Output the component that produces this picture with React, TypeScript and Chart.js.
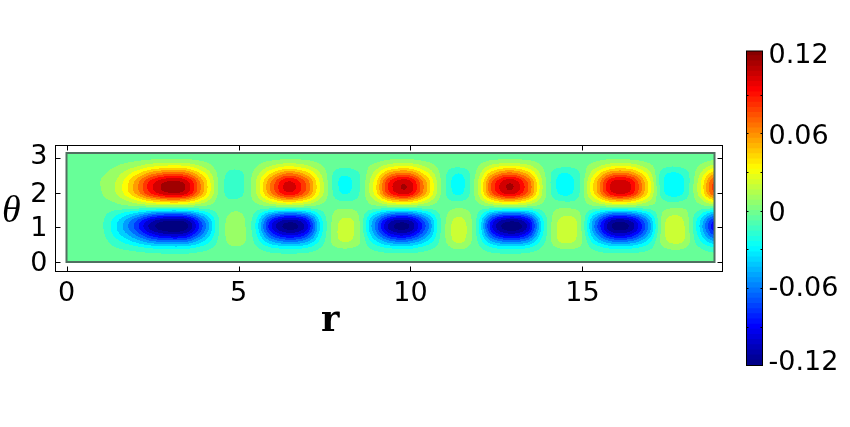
import React, { useEffect, useRef } from "react";
import { Chart, registerables } from "chart.js";

Chart.register(...registerables);

// field values in thousandths: rows run from theta = 0 to pi, columns from r = 0 to 6*pi
const row0 = [0,0,0,0,0,0,0,0,0,0,0,0,0,0,0,0,0,0,0,0,0,0,0,0,0,0,0,0,0,0,0,0,0,0,0,0,0,0,0];
const row1 = [0,0,0,-1,-2,-3,-4,-4,-2,0,0,0,-3,-4,-3,-1,0,0,-2,-3,-3,-2,0,0,0,-3,-4,-3,0,0,0,-2,-3,-3,-2,0,0,-1,-3];
const row2 = [0,0,-1,-6,-12,-19,-22,-21,-12,-1,4,-3,-16,-21,-18,-4,6,4,-9,-19,-21,-12,-1,8,-1,-17,-22,-18,-3,7,5,-10,-21,-20,-11,5,8,-4,-16];
const row3 = [0,0,-1,-15,-33,-52,-60,-57,-31,-2,12,-7,-42,-57,-47,-10,17,12,-24,-52,-55,-33,-1,21,-3,-44,-59,-48,-8,20,13,-28,-55,-54,-29,13,21,-12,-42];
const row4 = [0,-1,-2,-26,-54,-86,-100,-94,-51,-3,14,-11,-70,-94,-78,-16,20,14,-40,-86,-92,-54,-2,25,-5,-74,-98,-80,-13,24,15,-46,-92,-90,-48,15,25,-19,-70];
const row5 = [0,-1,-3,-32,-68,-108,-125,-118,-64,-4,14,-14,-88,-118,-98,-20,20,14,-50,-108,-115,-68,-3,25,-6,-92,-122,-100,-16,24,15,-58,-115,-112,-60,15,25,-24,-88];
const row6 = [0,-1,-3,-29,-63,-99,-115,-109,-59,-4,13,-13,-81,-109,-90,-18,18,13,-46,-99,-106,-63,-3,22,-6,-85,-112,-92,-15,22,14,-53,-106,-103,-55,14,22,-22,-81];
const row7 = [0,-1,-2,-17,-35,-56,-65,-61,-33,-2,8,-7,-46,-61,-51,-10,12,8,-26,-56,-60,-35,-2,15,-3,-48,-63,-52,-8,14,9,-30,-60,-58,-31,9,15,-12,-46];
const row8 = [0,0,0,0,0,0,0,0,0,0,3,0,0,0,0,0,4,3,0,0,0,0,0,5,0,0,0,0,0,5,3,0,0,0,0,3,5,0,0];
const row9 = [0,0,3,10,27,47,57,53,27,0,-4,7,33,51,38,10,-6,-4,15,46,53,29,1,-7,6,40,55,39,6,-7,-3,24,51,49,23,-5,-7,9,40];
const row10 = [0,1,5,20,52,90,109,102,52,1,-11,13,63,97,72,20,-16,-10,29,88,102,56,3,-20,11,77,104,74,11,-20,-8,45,97,95,43,-15,-20,18,77];
const row11 = [0,1,6,22,58,100,121,113,58,1,-13,14,70,108,80,22,-19,-12,32,98,113,62,3,-24,12,85,116,82,12,-24,-10,50,108,105,48,-18,-23,20,85];
const row12 = [0,1,6,20,53,92,111,104,53,1,-13,13,64,99,74,20,-19,-12,29,90,104,57,3,-24,11,78,107,75,11,-24,-10,46,99,97,44,-18,-23,18,78];
const row13 = [0,1,4,14,36,62,75,70,36,1,-10,9,43,67,50,14,-14,-9,20,61,70,38,2,-18,7,53,72,51,7,-18,-8,31,67,65,30,-14,-17,12,53];
const row14 = [0,0,2,7,17,30,36,34,17,0,-3,4,21,32,24,7,-4,-2,10,29,34,19,1,-5,4,26,35,25,4,-5,-2,15,32,32,14,-4,-5,6,26];
const row15 = [0,0,0,2,4,7,8,8,4,0,0,1,5,8,6,2,0,0,2,7,8,4,0,0,1,6,8,6,1,0,0,4,8,7,3,0,0,1,6];
const row16 = [0,0,0,0,0,0,0,0,0,0,0,0,0,0,0,0,0,0,0,0,0,0,0,0,0,0,0,0,0,0,0,0,0,0,0,0,0,0,0];
const field = [row0,row1,row2,row3,row4,row5,row6,row7,row8,row9,row10,row11,row12,row13,row14,row15,row16];

const rMax = 6 * Math.PI;
const thetaMax = Math.PI;
const xTicks = [0, 5, 10, 15];
const yTicks = [0, 1, 2, 3];
const yLabelValues = [0, 1, 2, 3.08];
const yLabels = ["0", "1", "2", "3"];
const barTickMarks = [-0.09, -0.06, -0.03, 0, 0.03, 0.06, 0.09];
const barLabelValues = [-0.1159, -0.0585, 0, 0.0595, 0.1223];
const barLabels = ["-0.12", "-0.06", "0", "0.06", "0.12"];
const colorMin = -0.12;
const colorMax = 0.1238;
const bandStep = 0.012;

const FONT = "'DejaVu Sans'";

function clamp01(v: number) {
  return v < 0 ? 0 : v > 1 ? 1 : v;
}
function jet(v: number): [number, number, number] {
  const t = clamp01((v - colorMin) / (colorMax - colorMin));
  return [
    Math.round(255 * clamp01(1.5 - Math.abs(4 * t - 3))),
    Math.round(255 * clamp01(1.5 - Math.abs(4 * t - 2))),
    Math.round(255 * clamp01(1.5 - Math.abs(4 * t - 1))),
  ];
}
function cubic(a: number, b: number, c: number, d: number, t: number) {
  return b + 0.5 * t * (c - a + t * (2 * a - 5 * b + 4 * c - d + t * (3 * (b - c) + d - a)));
}
function fieldAt(r: number, theta: number) {
  const nr = field[0].length - 1;
  const nt = field.length - 1;
  const fx = (r / rMax) * nr;
  const fy = (theta / thetaMax) * nt;
  const ix = Math.min(nr - 1, Math.max(0, Math.floor(fx)));
  const iy = Math.min(nt - 1, Math.max(0, Math.floor(fy)));
  const col = (j: number) => {
    const row = field[Math.max(0, Math.min(nt, j))];
    const g = (i: number) => row[Math.max(0, Math.min(nr, i))];
    return cubic(g(ix - 1), g(ix), g(ix + 1), g(ix + 2), fx - ix);
  };
  return cubic(col(iy - 1), col(iy), col(iy + 1), col(iy + 2), fy - iy) / 1000;
}

const gridPoints = field.flatMap((row, j) =>
  row.map((v, i) => ({ x: (i / (row.length - 1)) * rMax, y: (j / (field.length - 1)) * thetaMax, v }))
);

const contourPlugin = {
  id: "contour",
  beforeDatasetsDraw(chart: any) {
    const { ctx, scales } = chart;
    const x0 = Math.round(scales.x.getPixelForValue(0));
    const x1 = Math.round(scales.x.getPixelForValue(rMax));
    const y0 = Math.round(scales.y.getPixelForValue(thetaMax));
    const y1 = Math.round(scales.y.getPixelForValue(0));
    const w = x1 - x0;
    const h = y1 - y0;
    const off = document.createElement("canvas");
    off.width = w;
    off.height = h;
    const octx = off.getContext("2d")!;
    const img = octx.createImageData(w, h);
    for (let py = 0; py < h; py++) {
      const theta = scales.y.getValueForPixel(y0 + py + 0.5);
      for (let px = 0; px < w; px++) {
        const r = scales.x.getValueForPixel(x0 + px + 0.5);
        const v = fieldAt(r, theta);
        const band = Math.round(v / bandStep) * bandStep;
        const c = jet(band - 0.004);
        const k = (py * w + px) * 4;
        img.data[k] = c[0];
        img.data[k + 1] = c[1];
        img.data[k + 2] = c[2];
        img.data[k + 3] = 255;
      }
    }
    octx.putImageData(img, 0, 0);
    ctx.drawImage(off, x0, y0);
    ctx.save();
    ctx.strokeStyle = "rgb(80,112,96)";
    ctx.lineWidth = 2;
    ctx.strokeRect(x0 - 0.5, y0, w, h);
    ctx.restore();
  },
  afterDraw(chart: any) {
    const { ctx, scales, chartArea: a } = chart;
    ctx.save();
    ctx.strokeStyle = "#000";
    ctx.lineWidth = 1;
    ctx.strokeRect(a.left, a.top, a.right - a.left, a.bottom - a.top);
    ctx.beginPath();
    const len = 5;
    xTicks.forEach((t) => {
      const p = Math.round(scales.x.getPixelForValue(t)) + 0.5;
      ctx.moveTo(p, a.top);
      ctx.lineTo(p, a.top + len);
      ctx.moveTo(p, a.bottom);
      ctx.lineTo(p, a.bottom - len);
    });
    yTicks.forEach((t) => {
      const p = Math.round(scales.y.getPixelForValue(t)) + 0.5;
      ctx.moveTo(a.left, p);
      ctx.lineTo(a.left + len, p);
      ctx.moveTo(a.right, p);
      ctx.lineTo(a.right - len, p);
    });
    ctx.stroke();
    ctx.fillStyle = "#000";
    ctx.textBaseline = "alphabetic";
    ctx.textAlign = "left";
    ctx.font = "italic 38px 'Liberation Serif', 'DejaVu Serif', serif";
    ctx.fillText("θ", 2, 222);
    ctx.font = "bold 35px 'DejaVu Serif', serif";
    ctx.fillText("r", 321, 331);
    ctx.restore();
  },
};

const barFramePlugin = {
  id: "barFrame",
  afterDraw(chart: any) {
    const { ctx, scales, chartArea: a } = chart;
    ctx.save();
    ctx.strokeStyle = "#000";
    ctx.lineWidth = 1;
    ctx.strokeRect(a.left, a.top, a.right - a.left, a.bottom - a.top);
    ctx.beginPath();
    barTickMarks.forEach((t) => {
      const p = Math.round(scales.y.getPixelForValue(t)) + 0.5;
      ctx.moveTo(a.left, p);
      ctx.lineTo(a.left + 2, p);
      ctx.moveTo(a.right, p);
      ctx.lineTo(a.right - 2, p);
    });
    ctx.stroke();
    ctx.restore();
  },
};

export default function App() {
  const mainRef = useRef<HTMLCanvasElement>(null);
  const barRef = useRef<HTMLCanvasElement>(null);

  useEffect(() => {
    const main = new Chart(mainRef.current!, {
      type: "scatter",
      data: { datasets: [{ label: "field", data: gridPoints, pointRadius: 0, showLine: false }] },
      options: {
        animation: false,
        responsive: false,
        layout: { padding: { left: 0, top: 145.5, right: 127.5, bottom: 0 } },
        plugins: { legend: { display: false }, tooltip: { enabled: false } },
        scales: {
          x: {
            type: "linear",
            min: -0.32,
            max: 19.07,
            afterFit: (s: any) => { s.height = 155.5; },
            afterBuildTicks: (s: any) => { s.ticks = xTicks.map((value) => ({ value })); },
            grid: { display: false, drawTicks: false },
            border: { display: false },
            ticks: { color: "#000", font: { family: FONT, size: 27 }, padding: 6, maxRotation: 0 },
          },
          y: {
            type: "linear",
            min: -0.284,
            max: 3.363,
            afterFit: (s: any) => { s.width = 55.5; },
            afterBuildTicks: (s: any) => { s.ticks = yLabelValues.map((value) => ({ value })); },
            grid: { display: false, drawTicks: false },
            border: { display: false },
            ticks: {
              color: "#000",
              font: { family: FONT, size: 27 },
              padding: 8,
              labelOffset: 2,
              callback: (value: any) => yLabels[yLabelValues.indexOf(value)],
            },
          },
        },
      },
      plugins: [contourPlugin],
    } as any);

    const levels: number[] = [];
    for (let v = colorMin; v < colorMax - 1e-9; v += 0.004) levels.push(v);
    const bar = new Chart(barRef.current!, {
      type: "bar",
      data: {
        labels: ["c"],
        datasets: levels.map((lo) => {
          const c = jet(lo + 0.002);
          return {
            label: lo.toFixed(3),
            data: [[lo, Math.min(colorMax, lo + 0.0042)]],
            backgroundColor: `rgb(${c[0]},${c[1]},${c[2]})`,
            borderWidth: 0,
            barPercentage: 1,
            categoryPercentage: 1,
            grouped: false,
          };
        }),
      },
      options: {
        animation: false,
        responsive: false,
        layout: { padding: { left: 746.5, top: 51, right: 0, bottom: 61.5 } },
        plugins: { legend: { display: false }, tooltip: { enabled: false } },
        scales: {
          x: {
            display: false,
            grid: { display: false },
          },
          y: {
            type: "linear",
            position: "right",
            min: colorMin,
            max: colorMax,
            afterFit: (s: any) => { s.width = 87.5; },
            afterBuildTicks: (s: any) => { s.ticks = barLabelValues.map((value) => ({ value })); },
            grid: { display: false, drawTicks: false },
            border: { display: false },
            ticks: {
              color: "#000",
              font: { family: FONT, size: 27 },
              padding: 6,
              labelOffset: 3,
              crossAlign: "near",
              callback: (value: any) => barLabels[barLabelValues.indexOf(value)],
            },
          },
        },
      },
      plugins: [barFramePlugin],
    } as any);

    return () => {
      main.destroy();
      bar.destroy();
    };
  }, []);

  const style: React.CSSProperties = { position: "fixed", left: 0, top: 0 };
  return (
    <div style={{ position: "fixed", left: 0, top: 0, width: 850, height: 427, background: "#fff" }}>
      <canvas ref={mainRef} width={850} height={427} style={style} />
      <canvas ref={barRef} width={850} height={427} style={style} />
    </div>
  );
}
